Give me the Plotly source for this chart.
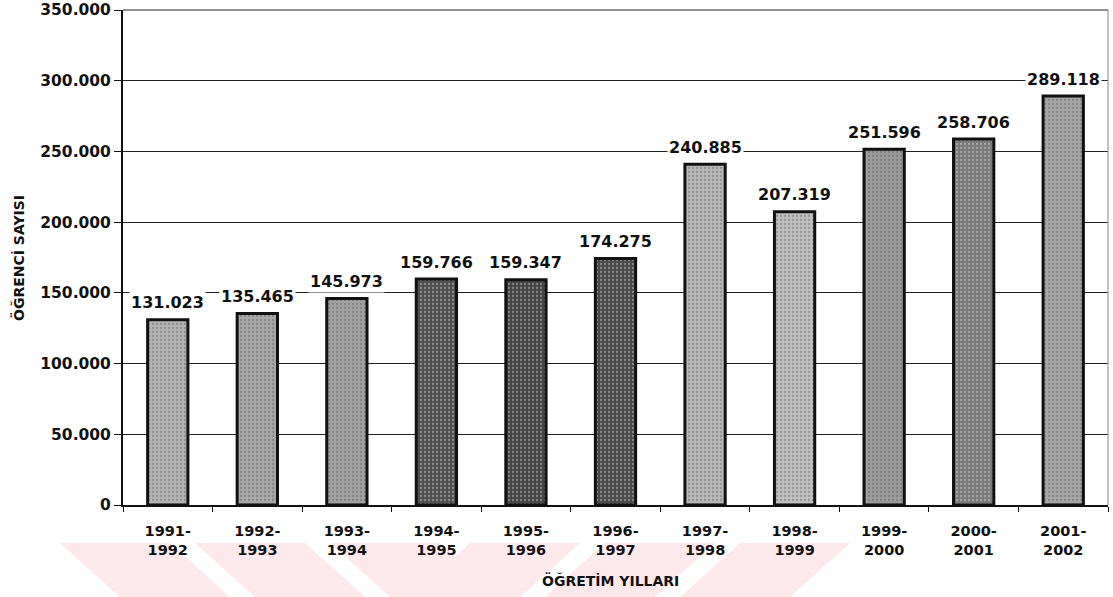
import plotly.graph_objects as go

years = ["1991-<br>1992", "1992-<br>1993", "1993-<br>1994", "1994-<br>1995", "1995-<br>1996",
         "1996-<br>1997", "1997-<br>1998", "1998-<br>1999", "1999-<br>2000", "2000-<br>2001",
         "2001-<br>2002"]
students = [131023, 135465, 145973, 159766, 159347, 174275, 240885, 207319, 251596, 258706, 289118]
bar_colors = ["#b4b4b4", "#a9a9a9", "#a2a2a2", "#4f4f4f", "#454545", "#4a4a4a",
              "#b8b8b8", "#c0c0c0", "#9c9c9c", "#7a7a7a", "#a6a6a6"]
y_ticks = [0, 50000, 100000, 150000, 200000, 250000, 300000, 350000]

W, H = 1113, 597
L, R, T, B = 123, 5, 10, 92
pw, ph = W - L - R, H - T - B


def px(x):
    return (x - L) / pw


def py(y):
    return (H - B - y) / ph


FONT = "DejaVu Sans"
INK = "#111111"

fig = go.Figure()
fig.add_trace(go.Bar(
    x=years, y=students, width=0.45,
    marker=dict(color=bar_colors, line=dict(color=INK, width=3),
                pattern=dict(shape=".", fgcolor="#ffffff", fgopacity=0.35, size=4, solidity=0.25)),
    hoverinfo="x+y",
))

annotations = []
for yr, v in zip(years, students):
    annotations.append(dict(
        x=yr, y=v, xref="x", yref="y", text=f"<b>{v:,}</b>".replace(",", "."),
        showarrow=False, yanchor="middle", xanchor="center", yshift=17, bgcolor="white",
        font=dict(family=FONT, size=16, color=INK, weight="bold"),
    ))
annotations.append(dict(text="<b>ÖĞRETİM YILLARI</b>", xref="paper", yref="paper",
                        x=px(610), y=py(580), showarrow=False,
                        xanchor="center", yanchor="middle",
                        font=dict(family=FONT, size=14, color=INK, weight="bold")))
annotations.append(dict(text="<b>ÖĞRENCİ SAYISI</b>", xref="paper", yref="paper",
                        x=px(18), y=py(258), showarrow=False, textangle=-90,
                        xanchor="center", yanchor="middle",
                        font=dict(family=FONT, size=14, color=INK, weight="bold")))

shapes = []
pink = "#fde9ec"
top_y, bot_y = 543, 597
for xs in [60, 195, 330]:
    w, sh = 110, 60
    path = (f"M {px(xs)} {py(top_y)} L {px(xs + w)} {py(top_y)} "
            f"L {px(xs + w + sh)} {py(bot_y)} L {px(xs + sh)} {py(bot_y)} Z")
    shapes.append(dict(type="path", path=path, xref="paper", yref="paper", fillcolor=pink,
                       line=dict(width=0), layer="below"))
for xs in [470, 605, 740]:
    w, sh = 110, -60
    path = (f"M {px(xs)} {py(top_y)} L {px(xs + w)} {py(top_y)} "
            f"L {px(xs + w + sh)} {py(bot_y)} L {px(xs + sh)} {py(bot_y)} Z")
    shapes.append(dict(type="path", path=path, xref="paper", yref="paper", fillcolor=pink,
                       line=dict(width=0), layer="below"))
shapes.append(dict(type="line", xref="paper", yref="paper", x0=1, x1=1, y0=0, y1=1,
                   line=dict(color="#888888", width=1)))
shapes.append(dict(type="line", xref="paper", yref="paper", x0=0, x1=1, y0=1, y1=1,
                   line=dict(color="#222222", width=1)))

fig.update_layout(
    width=W, height=H,
    margin=dict(l=L, r=R, t=T, b=B, autoexpand=False),
    paper_bgcolor="white", plot_bgcolor="white",
    separators=",.",
    showlegend=False,
    shapes=shapes,
    annotations=annotations,
    font=dict(family=FONT, color=INK),
    xaxis=dict(
        tickfont=dict(family=FONT, size=14.5, color=INK, weight="bold"),
        showline=True, linecolor=INK, linewidth=1.5,
        ticks="outside", tickson="boundaries", ticklen=5, tickcolor=INK,
        ticklabelstandoff=12, automargin=False,
        showgrid=False, range=[-0.5, 10.5],
    ),
    yaxis=dict(
        range=[0, 350000], tickvals=y_ticks, tickformat=",.0f",
        tickfont=dict(family=FONT, size=15.5, color=INK, weight="bold"),
        showline=True, linecolor=INK, linewidth=2,
        ticks="outside", ticklen=7, tickcolor=INK,
        ticklabeloverflow="allow", automargin=False,
        showgrid=True, gridcolor="#222222", gridwidth=1,
        zeroline=False,
    ),
)

fig.write_html("out.html", config={"displayModeBar": False},
               post_script="document.body.style.margin='0';document.body.style.overflow='hidden';")
